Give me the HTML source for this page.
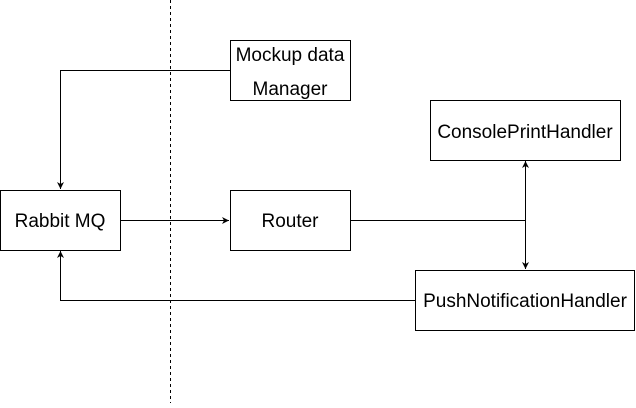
<!DOCTYPE html>
<html><head><style>
body{margin:0;background:#fff;}
text{font-family:"Liberation Sans",sans-serif;font-size:19px;fill:#000;}
</style></head><body>
<svg width="636" height="403" viewBox="0 0 636 403">
<defs><marker id="a" markerWidth="8" markerHeight="8" refX="7" refY="4" orient="auto" markerUnits="userSpaceOnUse"><path d="M0,0.5 L7,4 L0,7.5 L2,4 Z" fill="#000"/></marker></defs>
<line x1="170.5" y1="0" x2="170.5" y2="403" stroke="#000" stroke-dasharray="3,3"/>
<g fill="#fff" stroke="#000">
<rect x="230.5" y="40.5" width="120" height="60"/>
<rect x="430.5" y="100.5" width="190" height="60"/>
<rect x="0.5" y="190.5" width="120" height="60"/>
<rect x="230.5" y="190.5" width="120" height="60"/>
<rect x="415.5" y="270.5" width="219" height="60"/>
</g>
<g fill="none" stroke="#000">
<polyline points="230,70.5 60.5,70.5 60.5,189" marker-end="url(#a)"/>
<line x1="121" y1="220.5" x2="229" y2="220.5" marker-end="url(#a)"/>
<polyline points="351,220.5 525.5,220.5"/>
<line x1="525.5" y1="220.5" x2="525.5" y2="161" marker-end="url(#a)"/>
<line x1="525.5" y1="220.5" x2="525.5" y2="269" marker-end="url(#a)"/>
<polyline points="415,300.5 60.5,300.5 60.5,251" marker-end="url(#a)"/>
</g>
<text x="290" y="61" text-anchor="middle">Mockup data</text>
<text x="290" y="95" text-anchor="middle">Manager</text>
<text x="525" y="138" text-anchor="middle">ConsolePrintHandler</text>
<text x="60" y="227" text-anchor="middle">Rabbit MQ</text>
<text x="290" y="227" text-anchor="middle">Router</text>
<text x="525" y="307" text-anchor="middle">PushNotificationHandler</text>
</svg>
</body></html>
